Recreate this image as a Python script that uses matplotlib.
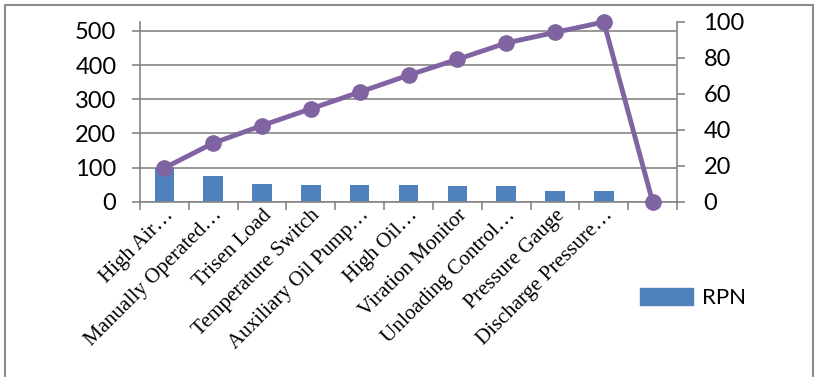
import matplotlib.pyplot as plt
import matplotlib.patches as mpatches
import matplotlib.transforms as mtransforms
import numpy as np

plt.rcParams['font.family'] = ['Lato', 'DejaVu Sans']

###########################
# Data
###########################

components = ['High Air…', 'Manually Operated…', 'Trisen Load', 'Temperature Switch',
              'Auxiliary Oil Pump…', 'High Oil…', 'Viration Monitor', 'Unloading Control…',
              'Pressure Gauge', 'Discharge Pressure…', '']
rpn = [100, 75, 53, 48, 48, 48, 46, 46, 31, 31, 0]
cum_pct = [18.8, 32.6, 42.4, 51.7, 61.0, 70.4, 79.2, 88.3, 94.2, 100, 0]

bar_color = '#4F81BD'
line_color = '#8064A2'
grid_color = '#868686'

fig = plt.figure(figsize=(8.19, 3.77), dpi=100)
ax = fig.add_axes([140 / 819, 1 - 201.7 / 377, (677 - 140) / 819, (201.7 - 22) / 377])

x = np.arange(len(components))
ax.bar(x[:10], rpn[:10], width=0.4, color=bar_color, label='RPN', zorder=2)
ax.set_xlim(-0.5, len(components) - 0.5)
ax.set_ylim(0, sum(rpn))
ax.set_yticks([0, 100, 200, 300, 400, 500])
ax.yaxis.grid(True, color=grid_color, lw=1.2, zorder=0)
ax.set_axisbelow(True)

# category ticks sit between the bars, labels under the bar centres
ax.set_xticks(np.arange(len(components) + 1) - 0.5)
ax.set_xticklabels([])
ax.set_xticks(x, minor=True)
ax.set_xticklabels(components, minor=True, rotation=45, ha='right', va='top',
                   rotation_mode='anchor', fontsize=15.2, family='Liberation Serif')
shift = mtransforms.ScaledTranslation(9 / 100, -1 / 100, fig.dpi_scale_trans)
for lab in ax.get_xticklabels(minor=True):
    lab.set_transform(lab.get_transform() + shift)
ax.tick_params(axis='x', which='minor', length=0, pad=3)
ax.tick_params(axis='x', which='major', length=6, width=1.2, color=grid_color)
ax.tick_params(axis='y', length=6, width=1.2, color=grid_color, labelsize=17, pad=11)

for side in ['top', 'right']:
    ax.spines[side].set_visible(False)
for side in ['left', 'bottom']:
    ax.spines[side].set_color(grid_color)
    ax.spines[side].set_linewidth(1.2)

# cumulative percentage on the right axis
ax2 = ax.twinx()
ax2.plot(x, cum_pct, color=line_color, lw=3.5, marker='o', markersize=11,
         zorder=3, clip_on=False)
ax2.set_ylim(0, 100)
ax2.set_yticks([0, 20, 40, 60, 80, 100])
ax2.tick_params(axis='y', length=6, width=1.2, color=grid_color, labelsize=17, pad=13)
for side in ['top', 'left', 'bottom']:
    ax2.spines[side].set_visible(False)
ax2.spines['right'].set_color(grid_color)
ax2.spines['right'].set_linewidth(1.2)

fig.legend(handles=[mpatches.Patch(color=bar_color, label='RPN')],
           loc='center left', bbox_to_anchor=(620 / 819, 1 - 298 / 377),
           frameon=False, fontsize=16, handlelength=2.4, handleheight=0.8,
           handletextpad=0.4)

# chart frame
fig.patches.append(mpatches.Rectangle((5 / 819, -0.05), 808 / 819, 1 - 5 / 377 + 0.05,
                                      transform=fig.transFigure, fill=False,
                                      edgecolor='#8c8c8c', lw=1.5))

fig.savefig('out.png', dpi=100)
